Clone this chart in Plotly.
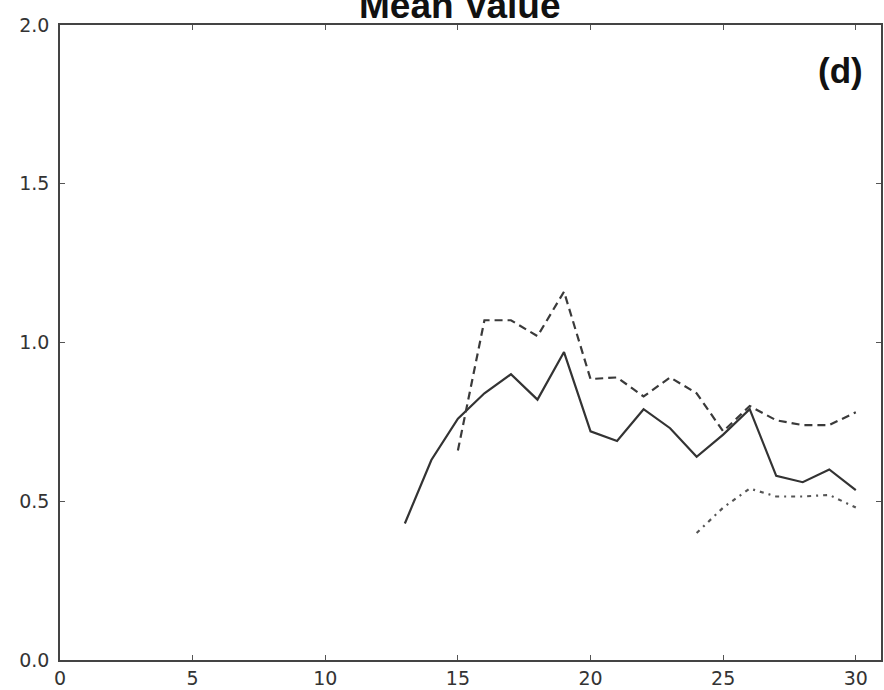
import plotly.graph_objects as go

x_solid = list(range(13, 31))
y_solid = [0.43, 0.63, 0.76, 0.84, 0.90, 0.82, 0.97, 0.72, 0.69, 0.79, 0.73, 0.64, 0.71, 0.79, 0.58, 0.56, 0.60, 0.535]

x_dashed = list(range(15, 31))
y_dashed = [0.66, 1.07, 1.07, 1.02, 1.16, 0.885, 0.89, 0.83, 0.89, 0.84, 0.72, 0.80, 0.755, 0.74, 0.74, 0.78]

x_dotted = list(range(24, 31))
y_dotted = [0.40, 0.48, 0.54, 0.515, 0.515, 0.52, 0.48]

x_ticks = [0, 5, 10, 15, 20, 25, 30]
y_ticks = [0.0, 0.5, 1.0, 1.5, 2.0]
y_tick_labels = ["0.0", "0.5", "1.0", "1.5", "2.0"]

title_text = "Mean Value"
panel_label = "(d)"

fig = go.Figure()
fig.add_trace(go.Scatter(x=x_solid, y=y_solid, mode="lines",
                         line=dict(color="#333333", width=2.2), showlegend=False))
fig.add_trace(go.Scatter(x=x_dashed, y=y_dashed, mode="lines",
                         line=dict(color="#3a3a3a", width=2.2, dash="8px,5px"), showlegend=False))
fig.add_trace(go.Scatter(x=x_dotted, y=y_dotted, mode="lines",
                         line=dict(color="#555555", width=2.2, dash="4px,5px,2px,5px"), showlegend=False))

axis_common = dict(
    showgrid=False, zeroline=False, showline=True, linecolor="#444444", linewidth=1.5,
    mirror="ticks", ticks="inside", ticklen=5, tickwidth=1, tickcolor="#555555",
    tickfont=dict(family="DejaVu Sans", size=19, color="#333333"),
)

fig.update_xaxes(range=[0, 30.95], tickvals=x_ticks, ticktext=[str(v) for v in x_ticks], **axis_common)
fig.update_yaxes(range=[0, 2.0], tickvals=y_ticks, ticktext=y_tick_labels,
                 ticklabelstandoff=5, **axis_common)

fig.add_annotation(text=title_text, xref="paper", yref="paper", x=0.487, y=1.0,
                   xanchor="center", yanchor="bottom", yshift=-3, showarrow=False,
                   font=dict(family="Liberation Sans", size=37, color="#111111", weight="bold"))
fig.add_annotation(text=panel_label, xref="paper", yref="paper", x=0.951, y=0.928,
                   xanchor="center", yanchor="middle", showarrow=False,
                   font=dict(family="Liberation Sans", size=35, color="#111111", weight="bold"))

fig.update_layout(
    width=884, height=690,
    margin=dict(l=60, r=1, t=25, b=25),
    paper_bgcolor="white", plot_bgcolor="white",
)

fig.write_html("out.html")
